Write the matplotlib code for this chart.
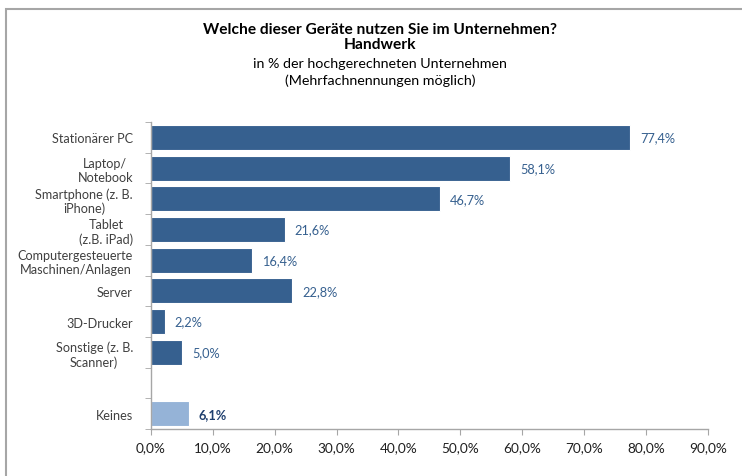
import matplotlib
import matplotlib.pyplot as plt
from matplotlib.patches import Rectangle
from matplotlib.ticker import FixedLocator, FuncFormatter

matplotlib.rcParams['font.family'] = ['Lato', 'DejaVu Sans']

categories = ['Stationärer PC', 'Laptop/\nNotebook', 'Smartphone (z. B.\niPhone)',
              'Tablet\n(z.B. iPad)', 'Computergesteuerte\nMaschinen/Anlagen', 'Server',
              '3D-Drucker', 'Sonstige (z. B.\nScanner)', '', 'Keines']
values = [77.4, 58.1, 46.7, 21.6, 16.4, 22.8, 2.2, 5.0, None, 6.1]
value_labels = ['77,4%', '58,1%', '46,7%', '21,6%', '16,4%', '22,8%', '2,2%', '5,0%', '', '6,1%']
highlight = 'Keines'
x_ticks = [0, 10, 20, 30, 40, 50, 60, 70, 80, 90]

dark = '#36608f'
light = '#95b3d7'

fig = plt.figure(figsize=(7.42, 4.77), dpi=100)
ax = fig.add_axes([0.2035, 0.0985, 0.7505, 0.6435])

# Rahmen um das Diagramm
fig.patches.append(Rectangle((0.008, -0.1), 1.2, 1.079, transform=fig.transFigure,
                             fill=False, edgecolor='#a6a6a6', lw=1.5))

for i, (cat, v, lab) in enumerate(zip(categories, values, value_labels)):
    if v is None:
        continue
    is_hl = cat == highlight
    ax.barh(i, v, height=0.82, color=light if is_hl else dark,
            edgecolor='white', linewidth=0.8)
    ax.text(v + 1.6, i, lab, va='center', ha='left', fontsize=9.2,
            color='#1f3f6e' if is_hl else '#36608f',
            fontweight='bold' if is_hl else 'normal')

ax.set_xlim(0, 90)
ax.set_ylim(len(categories) - 0.5, -0.5)

ax.set_xticks(x_ticks)
ax.xaxis.set_major_formatter(FuncFormatter(lambda x, p: f'{x:.1f}%'.replace('.', ',')))
ax.tick_params(axis='x', length=4, color='#a6a6a6', labelsize=9.8, labelcolor='#202020', pad=5)

ax.set_yticks(range(len(categories)))
ax.set_yticklabels(categories, multialignment='center')
ax.yaxis.set_minor_locator(FixedLocator([i - 0.5 for i in range(len(categories) + 1)]))
ax.tick_params(axis='y', which='major', length=0, labelsize=9.1, labelcolor='#404040', pad=13)
ax.tick_params(axis='y', which='minor', length=4, color='#a6a6a6')

for s in ['top', 'right']:
    ax.spines[s].set_visible(False)
for s in ['left', 'bottom']:
    ax.spines[s].set_color('#a6a6a6')
    ax.spines[s].set_linewidth(1.0)

cx = 0.512
fig.text(cx, 0.937, 'Welche dieser Geräte nutzen Sie im Unternehmen?', ha='center', va='center',
         fontsize=11.2, fontweight='bold', color='black')
fig.text(cx, 0.905, 'Handwerk', ha='center', va='center', fontsize=11.2, fontweight='bold', color='black')
fig.text(cx, 0.866, 'in % der hochgerechneten Unternehmen', ha='center', va='center',
         fontsize=10.3, color='black')
fig.text(cx, 0.830, '(Mehrfachnennungen möglich)', ha='center', va='center',
         fontsize=10.3, color='black')

fig.savefig('out.png', dpi=100)
